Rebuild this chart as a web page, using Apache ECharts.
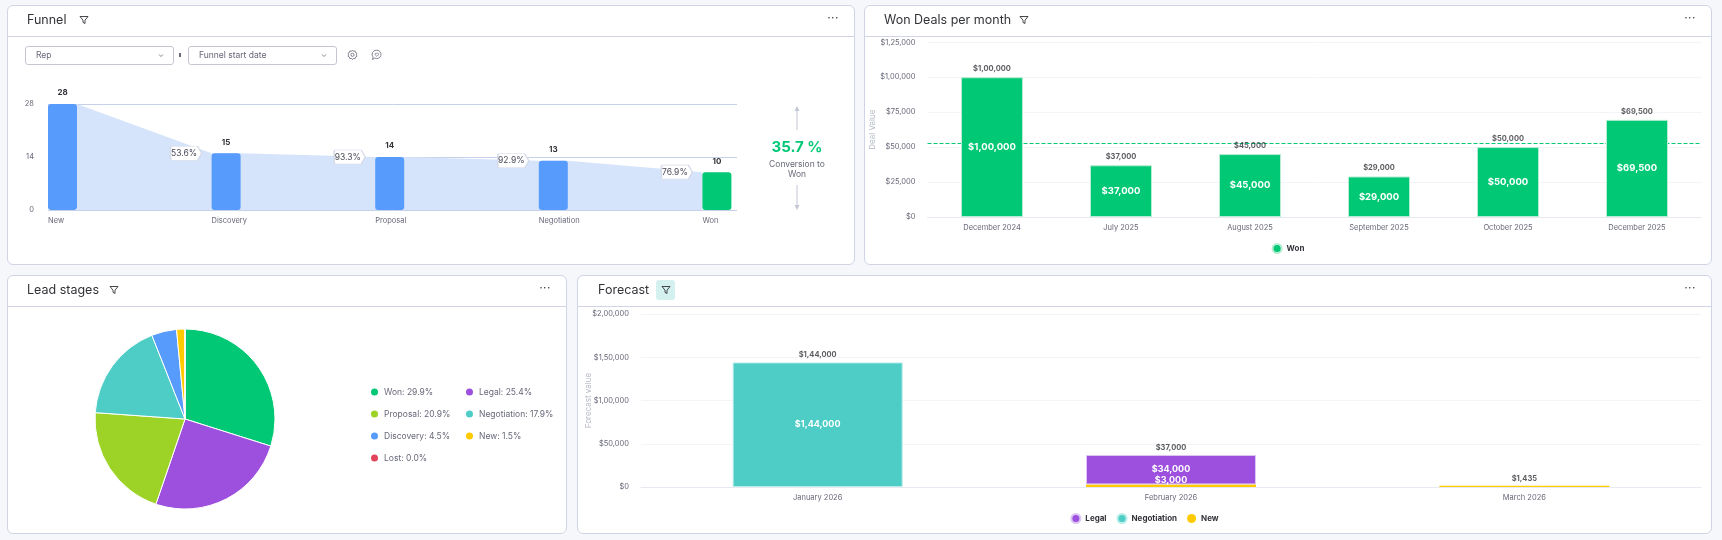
<!DOCTYPE html>
<html>
<head>
<meta charset="utf-8">
<script src="https://cdn.jsdelivr.net/npm/echarts@6/dist/echarts.min.js"></script>
<style>
  html, body { margin: 0; padding: 0; }
  body { width: 1722px; height: 540px; background: #f6f7fb; font-family: Inter, "Noto Sans", sans-serif; position: relative; overflow: hidden; }
  .panel { position: absolute; background: #fff; border: 1px solid #d0d4e4; border-radius: 6px; box-sizing: border-box; }
  .chart { position: absolute; left: 0; top: 0; width: 100%; height: 100%; }
  .head { position: absolute; left: 0; top: 0; right: 0; height: 30px; border-bottom: 1px solid #d0d4e4; z-index: 2; pointer-events: none; }
  .title { position: absolute; top: 6px; font-size: 12.5px; line-height: 16px; color: #323338; }
  .ficon { position: absolute; top: 9px; width: 10px; height: 10px; }
  .dots { position: absolute; right: 15px; top: 4px; font-size: 12px; color: #323338; letter-spacing: 0.5px; }
  .hl { position: absolute; top: 4px; width: 19px; height: 20px; background: #d4f0ef; border-radius: 3px; }
  .dd { position: absolute; top: 40px; width: 149px; height: 19px; border: 1px solid #c5c7d0; border-radius: 3px; box-sizing: border-box; font-size: 8.5px; color: #676879; line-height: 17px; padding-left: 10px; z-index: 2; }
  .dd svg { position: absolute; right: 9px; top: 6px; }
</style>
</head>
<body>

<div class="panel" style="left:7px;top:5px;width:848px;height:260px">
  <div class="chart" id="funnel"></div>
  <div class="head">
    <span class="title" style="left:19px">Funnel</span>
    <svg class="ficon" style="left:71px" viewBox="0 0 10 10"><path d="M1 1.5h8L6 5.2v3.3L4 7.4V5.2z" fill="none" stroke="#323338" stroke-width="0.9" stroke-linejoin="round"/></svg>
    <span class="dots">···</span>
  </div>
  <div class="dd" style="left:17px">Rep<svg width="6" height="5" viewBox="0 0 6 5"><path d="M1 1.5l2 2 2-2" fill="none" stroke="#676879" stroke-width="0.8"/></svg></div>
  <div style="position:absolute;left:171px;top:47px;width:2px;height:4px;background:#676879;z-index:2"></div>
  <div class="dd" style="left:180px">Funnel start date<svg width="6" height="5" viewBox="0 0 6 5"><path d="M1 1.5l2 2 2-2" fill="none" stroke="#676879" stroke-width="0.8"/></svg></div>
  <svg style="position:absolute;left:339px;top:43px;z-index:2" width="11" height="12" viewBox="0 0 11 12"><path d="M5.5 1l1 1.3 1.6-.4.4 1.6 1.5.8-.6 1.5.6 1.5-1.5.8-.4 1.6-1.6-.4-1 1.3-1-1.3-1.6.4-.4-1.6L1 7.3l.6-1.5L1 4.3l1.5-.8.4-1.6 1.6.4z" fill="none" stroke="#676879" stroke-width="0.8"/><circle cx="5.5" cy="5.8" r="1.6" fill="none" stroke="#676879" stroke-width="0.8"/></svg>
  <svg style="position:absolute;left:363px;top:43px;z-index:2" width="11" height="12" viewBox="0 0 11 12"><path d="M5.8 1.2a4.2 4.2 0 1 1-2.3 7.7L1.6 10.8l.5-2.7A4.2 4.2 0 0 1 5.8 1.2z" fill="none" stroke="#676879" stroke-width="0.8"/><path d="M5.8 7.4L4.2 5.8a1 1 0 0 1 1.6-1.2 1 1 0 0 1 1.6 1.2z" fill="none" stroke="#676879" stroke-width="0.7"/></svg>
</div>

<div class="panel" style="left:864px;top:5px;width:848px;height:260px">
  <div class="chart" id="won"></div>
  <div class="head">
    <span class="title" style="left:19px">Won Deals per month</span>
    <svg class="ficon" style="left:154px" viewBox="0 0 10 10"><path d="M1 1.5h8L6 5.2v3.3L4 7.4V5.2z" fill="none" stroke="#323338" stroke-width="0.9" stroke-linejoin="round"/></svg>
    <span class="dots">···</span>
  </div>
</div>

<div class="panel" style="left:7px;top:275px;width:560px;height:259px">
  <div class="chart" id="lead"></div>
  <div class="head">
    <span class="title" style="left:19px">Lead stages</span>
    <svg class="ficon" style="left:101px" viewBox="0 0 10 10"><path d="M1 1.5h8L6 5.2v3.3L4 7.4V5.2z" fill="none" stroke="#323338" stroke-width="0.9" stroke-linejoin="round"/></svg>
    <span class="dots">···</span>
  </div>
</div>

<div class="panel" style="left:577px;top:275px;width:1135px;height:259px">
  <div class="chart" id="forecast"></div>
  <div class="head">
    <span class="title" style="left:20px">Forecast</span>
    <div class="hl" style="left:78px"></div>
    <svg class="ficon" style="left:83px" viewBox="0 0 10 10"><path d="M1 1.5h8L6 5.2v3.3L4 7.4V5.2z" fill="none" stroke="#323338" stroke-width="0.9" stroke-linejoin="round"/></svg>
    <span class="dots">···</span>
  </div>
</div>

<script>
// funnel
const stages = ['New', 'Discovery', 'Proposal', 'Negotiation', 'Won'];
const stageCounts = [28, 15, 14, 13, 10];

// won deals per month
const wonMonths = ['December 2024', 'July 2025', 'August 2025', 'September 2025', 'October 2025', 'December 2025'];
const wonValues = [100000, 37000, 45000, 29000, 50000, 69500];
const wonRefLine = 52500;

// lead stages (share in %)
const leadNames = ['Won', 'Legal', 'Proposal', 'Negotiation', 'Discovery', 'New', 'Lost'];
const leadShares = [29.9, 25.4, 20.9, 17.9, 4.5, 1.5, 0.0];

// forecast
const forecastMonths = ['January 2026', 'February 2026', 'March 2026'];
const forecastLegal = [0, 34000, 0];
const forecastNegotiation = [144000, 0, 0];
const forecastNew = [0, 3000, 1435];

const FONT = 'Inter, "Noto Sans", sans-serif';
const GREEN = '#00c875';
const leadColors = ['#00c875', '#9d50dd', '#9cd326', '#4eccc6', '#579bfc', '#ffcb00', '#e2445c'];

function inr(v) {
  const s = String(Math.round(v));
  if (s.length <= 3) return '$' + s;
  const rest = s.slice(0, -3).replace(/\B(?=(\d{2})+(?!\d))/g, ',');
  return '$' + rest + ',' + s.slice(-3);
}

// ---------- Funnel ----------
const STEP = 163.6, BAR = 29, GRID_W = 689;
const half = BAR / 2 / STEP;
const xMin = -half;
const xMax = xMin + GRID_W / STEP;

let areaPts = [];
stageCounts.forEach((v, i) => {
  if (i > 0) areaPts.push([i - half, v]);
  if (i < stageCounts.length - 1) areaPts.push([i + half, v]);
});
const pctPts = stageCounts.slice(1).map((v, i) => [i + 1 - half, v, (v / stageCounts[i] * 100).toFixed(1) + '%']);
const conversion = (stageCounts[stageCounts.length - 1] / stageCounts[0] * 100).toFixed(1) + ' %';

const funnel = echarts.init(document.getElementById('funnel'));
funnel.setOption({
  animation: false,
  textStyle: { fontFamily: FONT },
  grid: { left: 40, top: 98, width: GRID_W, height: 106, outerBoundsMode: 'none' },
  xAxis: [
    { type: 'value', min: xMin, max: xMax, show: false },
    {
      type: 'value', min: 0, max: GRID_W / STEP, interval: 1, position: 'bottom',
      axisLine: { show: false }, axisTick: { show: false }, splitLine: { show: false },
      axisLabel: { align: 'left', fontSize: 7.5, color: '#676879', margin: 7, showMaxLabel: false,
        formatter: v => Number.isInteger(v) ? stages[v] : '' }
    }
  ],
  yAxis: {
    type: 'value', min: 0, max: 28, interval: 14,
    axisLine: { show: false }, axisTick: { show: false },
    axisLabel: { fontSize: 7.5, color: '#676879', margin: 14 },
    splitLine: { lineStyle: { color: '#c5d1ea' } }
  },
  series: [
    {
      type: 'line', xAxisIndex: 0, data: areaPts, symbol: 'none', z: 1,
      lineStyle: { width: 0 }, areaStyle: { color: '#d5e4fb', opacity: 1 }
    },
    {
      type: 'bar', xAxisIndex: 0, barWidth: BAR, z: 3,
      data: stageCounts.map((v, i) => [i, v]),
      itemStyle: { color: p => p.dataIndex === stages.length - 1 ? GREEN : '#579bfc', borderRadius: 3 },
      label: { show: true, position: 'top', distance: 7, fontSize: 8, fontWeight: 'bold', color: '#323338', formatter: p => p.value[1] }
    },
    {
      type: 'scatter', xAxisIndex: 0, data: pctPts, z: 4,
      symbol: 'path://M1,0L27,0L31,7L27,14L1,14L0,13L0,1Z', symbolSize: [31, 14], symbolOffset: [-25.5, 0],
      itemStyle: { color: '#fff', borderColor: '#d5dae6', borderWidth: 1, opacity: 1 },
      label: { show: true, position: 'inside', offset: [-2, 0], fontSize: 8.5, color: '#4b4c5a', formatter: p => p.value[2] }
    }
  ],
  graphic: [
    { type: 'text', x: 789, y: 141, style: { text: conversion, fill: GREEN, font: 'bold 15px ' + FONT, align: 'center', verticalAlign: 'middle' } },
    { type: 'text', x: 789, y: 158, style: { text: 'Conversion to', fill: '#676879', font: '8.5px ' + FONT, align: 'center', verticalAlign: 'middle' } },
    { type: 'text', x: 789, y: 168, style: { text: 'Won', fill: '#676879', font: '8.5px ' + FONT, align: 'center', verticalAlign: 'middle' } },
    { type: 'line', shape: { x1: 789, y1: 103, x2: 789, y2: 124 }, style: { stroke: '#c3c6d4', lineWidth: 1 } },
    { type: 'polygon', shape: { points: [[786.5, 105], [789, 100], [791.5, 105]] }, style: { fill: '#c3c6d4' } },
    { type: 'line', shape: { x1: 789, y1: 179, x2: 789, y2: 201 }, style: { stroke: '#c3c6d4', lineWidth: 1 } },
    { type: 'polygon', shape: { points: [[786.5, 199], [789, 204], [791.5, 199]] }, style: { fill: '#c3c6d4' } }
  ]
});

// ---------- Won Deals per month ----------
const won = echarts.init(document.getElementById('won'));
won.setOption({
  animation: false,
  textStyle: { fontFamily: FONT },
  grid: { left: 62.5, top: 36.3, width: 774, height: 174.7, outerBoundsMode: 'none' },
  legend: {
    data: ['Won'], top: 232, left: 'center', icon: 'circle', itemWidth: 9, itemHeight: 9,
    textStyle: { fontSize: 8, fontWeight: 'bold', color: '#323338' }
  },
  xAxis: {
    type: 'category', data: wonMonths,
    axisTick: { show: false }, axisLine: { lineStyle: { color: '#e6e9ef' } },
    axisLabel: { fontSize: 7.5, color: '#676879', margin: 7 }
  },
  yAxis: {
    type: 'value', min: 0, max: 125000, interval: 25000,
    name: 'Deal Value', nameLocation: 'middle', nameGap: 51, nameMoveOverlap: false,
    nameTextStyle: { fontSize: 8, color: '#b6b9c6' },
    axisLabel: { fontSize: 7.5, color: '#676879', margin: 12, formatter: inr },
    splitLine: { lineStyle: { color: '#f3f4f7' } }
  },
  series: [
    {
      name: 'Won', type: 'bar', data: wonValues, barWidth: 62,
      itemStyle: { color: GREEN, borderColor: '#b5ecd2', borderWidth: 1 },
      label: { show: true, position: 'inside', color: '#fff', fontSize: 9.5, fontWeight: 'bold', formatter: p => inr(p.value) },
      markLine: {
        z: 1, silent: true, symbol: 'none', label: { show: false },
        lineStyle: { type: 'dashed', color: GREEN, width: 1 },
        data: [{ yAxis: wonRefLine }]
      }
    },
    {
      type: 'scatter', data: wonValues, symbolSize: 1, itemStyle: { color: 'rgba(0,0,0,0)' }, silent: true,
      label: { show: true, position: 'top', distance: 4, fontSize: 7.5, fontWeight: 'bold', color: '#323338', formatter: p => inr(p.value) }
    }
  ]
});

// ---------- Lead stages ----------
const lead = echarts.init(document.getElementById('lead'));
lead.setOption({
  animation: false,
  textStyle: { fontFamily: FONT },
  legend: {
    left: 356, top: 105, width: 200, icon: 'circle', itemWidth: 9, itemHeight: 9, itemGap: 10,
    textStyle: { fontSize: 8.5, color: '#676879', width: 70, lineHeight: 12 },
    formatter: n => n + ': ' + leadShares[leadNames.indexOf(n)].toFixed(1) + '%'
  },
  series: [{
    type: 'pie', center: [177, 143], radius: 90, startAngle: 90, clockwise: true,
    label: { show: false }, labelLine: { show: false },
    itemStyle: { borderColor: '#fff', borderWidth: 1 },
    data: leadNames.map((n, i) => ({ name: n, value: leadShares[i], itemStyle: { color: leadColors[i] } }))
  }]
});

// ---------- Forecast ----------
const totals = forecastMonths.map((_, i) => forecastLegal[i] + forecastNegotiation[i] + forecastNew[i]);
const insideLabel = { show: true, position: 'inside', color: '#fff', fontSize: 9, fontWeight: 'bold',
  formatter: p => (p.value >= 2000 ? inr(p.value) : '') };
const orDash = arr => arr.map(v => (v ? v : '-'));

const forecast = echarts.init(document.getElementById('forecast'));
forecast.setOption({
  animation: false,
  textStyle: { fontFamily: FONT },
  grid: { left: 63, top: 38, width: 1060, height: 173, outerBoundsMode: 'none' },
  legend: {
    data: ['Legal', 'Negotiation', 'New'], top: 232, left: 'center', icon: 'circle',
    itemWidth: 9, itemHeight: 9, itemGap: 10,
    textStyle: { fontSize: 8, fontWeight: 'bold', color: '#323338' }
  },
  xAxis: {
    type: 'category', data: forecastMonths,
    axisTick: { show: false }, axisLine: { lineStyle: { color: '#e6e9ef' } },
    axisLabel: { fontSize: 7.5, color: '#676879', margin: 7 }
  },
  yAxis: {
    type: 'value', min: 0, max: 200000, interval: 50000,
    name: 'Forecast value', nameLocation: 'middle', nameGap: 48, nameMoveOverlap: false,
    nameTextStyle: { fontSize: 8, color: '#b6b9c6' },
    axisLabel: { fontSize: 7.5, color: '#676879', margin: 12, formatter: inr },
    splitLine: { lineStyle: { color: '#f3f4f7' } }
  },
  series: [
    { name: 'New', type: 'bar', stack: 'f', barWidth: 170, data: orDash(forecastNew), z: 2,
      itemStyle: { color: '#ffcb00' },
      label: Object.assign({}, insideLabel, { position: 'top', distance: 0 }) },
    { name: 'Legal', type: 'bar', stack: 'f', data: orDash(forecastLegal),
      itemStyle: { color: '#9d50dd', borderColor: '#dcc6f3', borderWidth: 1 }, label: insideLabel },
    { name: 'Negotiation', type: 'bar', stack: 'f', data: orDash(forecastNegotiation),
      itemStyle: { color: '#4eccc6', borderColor: '#b8ede9', borderWidth: 1 }, label: insideLabel },
    {
      type: 'scatter', data: totals, symbolSize: 1, itemStyle: { color: 'rgba(0,0,0,0)' }, silent: true,
      label: { show: true, position: 'top', distance: 3, fontSize: 7.5, fontWeight: 'bold', color: '#323338', formatter: p => inr(p.value) }
    }
  ]
});
</script>
</body>
</html>
